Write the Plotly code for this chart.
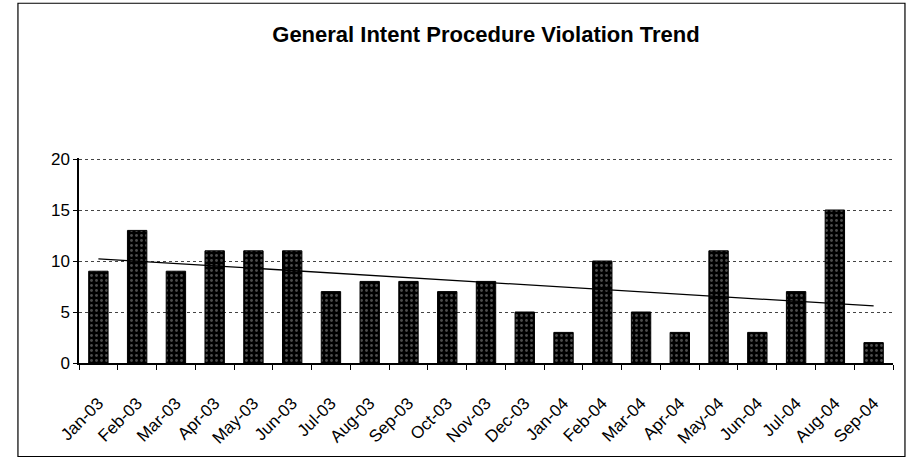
import numpy as np
import plotly.graph_objects as go

months = ["Jan-03", "Feb-03", "Mar-03", "Apr-03", "May-03", "Jun-03", "Jul-03",
          "Aug-03", "Sep-03", "Oct-03", "Nov-03", "Dec-03", "Jan-04", "Feb-04",
          "Mar-04", "Apr-04", "May-04", "Jun-04", "Jul-04", "Aug-04", "Sep-04"]
violations = [9, 13, 9, 11, 11, 11, 7, 8, 8, 7, 8, 5, 3, 10, 5, 3, 11, 3, 7, 15, 2]
y_ticks = [0, 5, 10, 15, 20]

# Linear trendline (as Excel computes it) from the data
idx = np.arange(len(violations))
slope, intercept = np.polyfit(idx, violations, 1)
trend = [intercept + slope * i for i in idx]

fig = go.Figure()
fig.add_trace(go.Bar(
    x=months, y=violations,
    marker=dict(color="black", line=dict(color="black", width=1),
                pattern=dict(shape=".", fgcolor="#9a9a9a", bgcolor="black",
                             size=5, solidity=0.25)),
    showlegend=False,
))
fig.add_trace(go.Scatter(
    x=months, y=trend, mode="lines",
    line=dict(color="black", width=1.3), showlegend=False,
))

fig.update_layout(
    width=909, height=458,
    margin=dict(l=79, r=16, t=158, b=95, autoexpand=False),
    paper_bgcolor="white", plot_bgcolor="white",
    bargap=0.5,
    title=dict(text="<b>General Intent Procedure Violation Trend</b>",
               x=0.5, xref="paper", xanchor="center",
               y=0.925, yref="container", yanchor="middle",
               font=dict(family="Liberation Sans, Arial, sans-serif", size=22, color="black")),
    font=dict(family="Liberation Sans, Arial, sans-serif", color="black"),
    xaxis=dict(
        type="category", tickangle=-45, tickfont=dict(size=17),
        automargin=False,
        showline=True, linecolor="black", linewidth=1.5,
        ticks="outside", tickson="boundaries", ticklen=5, tickcolor="black",
        ticklabelstandoff=22,
        showgrid=False,
    ),
    yaxis=dict(
        range=[0, 20.1], tickvals=y_ticks, tickfont=dict(size=17),
        automargin=False,
        showline=True, linecolor="black", linewidth=1.5,
        ticks="outside", ticklen=4, tickcolor="black",
        showgrid=True, gridcolor="#444", griddash="dot", gridwidth=1,
        zeroline=False,
    ),
    shapes=[dict(type="rect", xref="paper", yref="paper",
                 x0=-0.075, x1=1.0147, y0=-0.456, y1=1.755,
                 line=dict(color="black", width=1.2))],
)

fig.write_html("out.html", config={"displayModeBar": False},
               post_script="document.body.style.margin='0';document.body.style.overflow='hidden';")
